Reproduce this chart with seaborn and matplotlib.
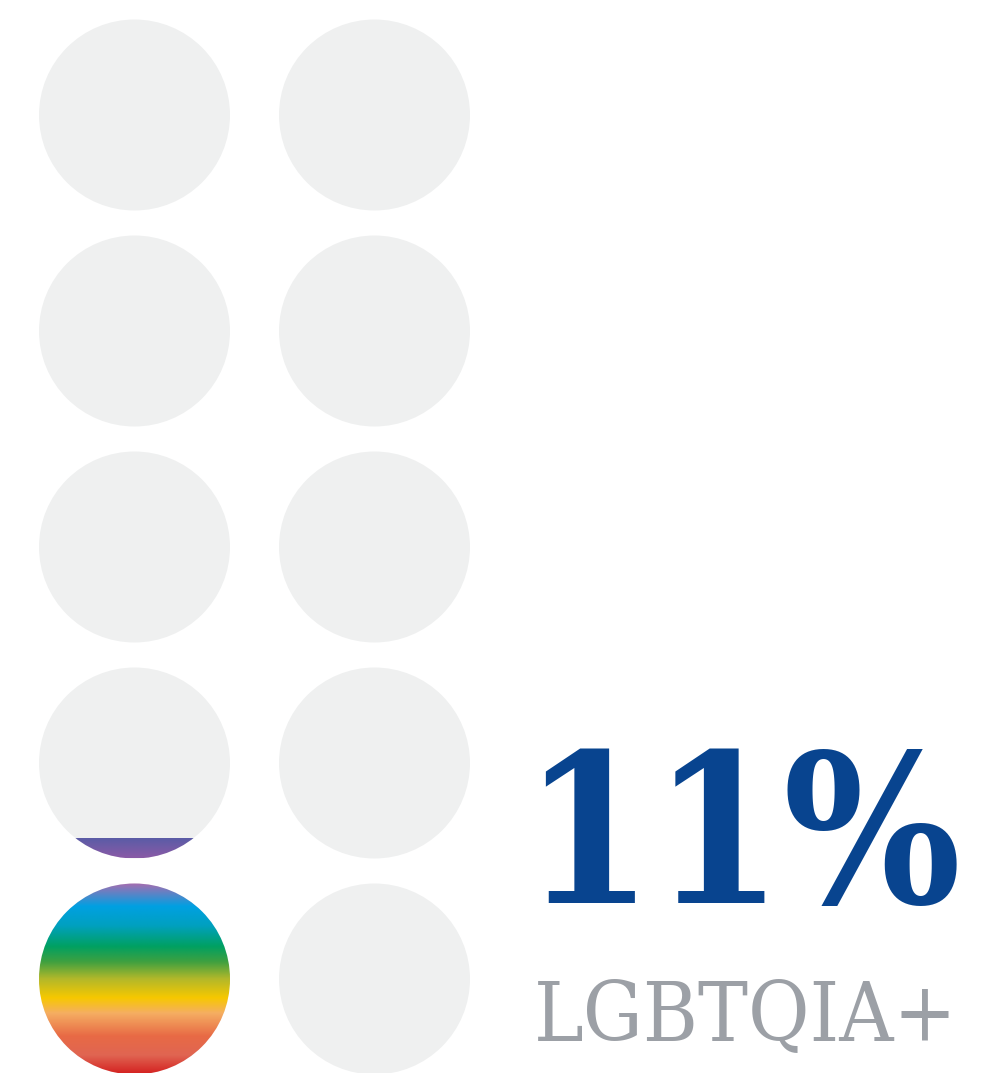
import numpy as np
import pandas as pd
import matplotlib
matplotlib.use("Agg")
import matplotlib.pyplot as plt
from matplotlib.patches import Circle
from matplotlib.colors import LinearSegmentedColormap
import seaborn as sns

# ── Data ───────────────────────────────────────────────────────────────────
PERCENT    = 11          # share shown
N_COLS     = 2
N_ROWS     = 5
PER_CIRCLE = 10          # each circle = 10 %
LABEL      = "LGBTQIA+"

# rainbow gradient stops (top -> bottom of a full circle)
RAINBOW_POS = [0.00, 0.12, 0.22, 0.33, 0.41, 0.50, 0.60, 0.68, 0.80, 0.90, 1.00]
RAINBOW_COL = ["#a66db0", "#00a0e2", "#00a0c0", "#00a062", "#3ea040", "#b2b82a",
               "#f7c800", "#f5ae62", "#e86a45", "#e06552", "#d4201f"]
# the top (partial) circle uses the violet end
PARTIAL_COL = ["#5a5ca6", "#8a5aa6"]

PALETTE = {"empty": "#eff0f0", "blue": "#08448f", "grey": "#9ca0a6", "bg": "white"}

# ── Layout (pixels) ────────────────────────────────────────────────────────
W, H   = 998, 1073
X0, DX = 134.5, 240
Y0, DY = 115, 216
R      = 95.5

sns.set_theme(style="white")
fig = plt.figure(figsize=(W / 100, H / 100), dpi=100, facecolor=PALETTE["bg"])
ax = fig.add_axes([0, 0, 1, 1])
ax.set_xlim(0, W)
ax.set_ylim(H, 0)
ax.set_axis_off()

# cells, filled column by column from the bottom-left
cells = []
for c in range(N_COLS):
    for r in range(N_ROWS - 1, -1, -1):
        cells.append({"col": c, "row": r})
df = pd.DataFrame(cells)
df["order"] = np.arange(len(df))
df["fill"] = np.clip(PERCENT / PER_CIRCLE - df["order"], 0, 1)
df["x"] = X0 + df["col"] * DX
df["y"] = Y0 + df["row"] * DY

# empty circles
diam_pt = 2 * R * 72 / 100
sns.scatterplot(data=df, x="x", y="y", s=diam_pt ** 2, color=PALETTE["empty"],
                edgecolor="none", linewidth=0, legend=False, ax=ax, zorder=1)

rainbow = LinearSegmentedColormap.from_list("rb", list(zip(RAINBOW_POS, RAINBOW_COL)))
violet  = LinearSegmentedColormap.from_list("vi", PARTIAL_COL)
grad = np.linspace(0, 1, 256).reshape(-1, 1)

for _, cell in df[df["fill"] > 0].iterrows():
    cx, cy, f = cell["x"], cell["y"], cell["fill"]
    top = cy + R - 2 * R * f
    clip = Circle((cx, cy), R, transform=ax.transData, facecolor="none", edgecolor="none")
    ax.add_patch(clip)
    cmap = rainbow if f >= 1 else violet
    im = ax.imshow(grad, cmap=cmap, aspect="auto", interpolation="bilinear",
                   extent=(cx - R, cx + R, cy + R, top), zorder=2)
    im.set_clip_path(clip)

ax.set_xlim(0, W)
ax.set_ylim(H, 0)

ax.text(522, 903, f"{PERCENT}%", color=PALETTE["blue"], fontsize=150,
        family="DejaVu Serif", fontweight="bold", fontstretch="condensed",
        ha="left", va="baseline", zorder=3)
ax.text(534, 1041, LABEL, color=PALETTE["grey"], fontsize=60,
        family="DejaVu Serif", fontweight="light", fontstretch="condensed",
        ha="left", va="baseline", zorder=3)

fig.savefig("out.png", dpi=100, facecolor=PALETTE["bg"])
